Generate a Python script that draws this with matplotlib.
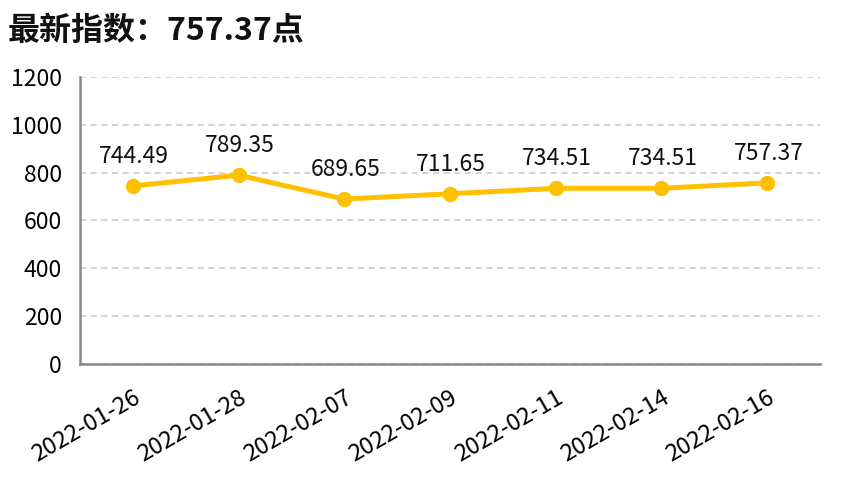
import matplotlib
matplotlib.use('Agg')
import matplotlib.pyplot as plt
from matplotlib.transforms import ScaledTranslation

plt.rcParams['font.family'] = ['Noto Sans CJK SC', 'DejaVu Sans']

# data
dates = ['2022-01-26', '2022-01-28', '2022-02-07', '2022-02-09',
         '2022-02-11', '2022-02-14', '2022-02-16']
values = [744.49, 789.35, 689.65, 711.65, 734.51, 734.51, 757.37]
y_ticks = [0, 200, 400, 600, 800, 1000, 1200]
title = '最新指数：757.37点'

line_color = '#FFC000'

fig = plt.figure(figsize=(8.46, 4.78), dpi=100)
ax = fig.add_axes([0.0946, 0.2385, 0.8745, 0.6005])

x = list(range(len(dates)))
ax.plot(x, values, color=line_color, linewidth=3.6, marker='o',
        markersize=10, zorder=3)

for xi, v in zip(x, values):
    ax.annotate(f'{v:.2f}', (xi, v), xytext=(1, 13), textcoords='offset points',
                ha='center', va='bottom', fontsize=16.5, color='#111111')

ax.set_xlim(-0.5, len(dates) - 0.5)
ax.set_ylim(0, 1200)
ax.set_yticks(y_ticks)
ax.set_yticklabels([str(t) for t in y_ticks], fontsize=16.5)
ax.set_xticks(x)
ax.set_xticklabels(dates, fontsize=17, rotation=30, ha='right',
                   rotation_mode='anchor')
# nudge rotated labels a little to the left, like the original
shift = ScaledTranslation(-0.08, 0, fig.dpi_scale_trans)
for lbl in ax.get_xticklabels():
    lbl.set_transform(lbl.get_transform() + shift)

ax.grid(axis='y', linestyle=(0, (4, 3)), color='#c8c8c8', linewidth=1.1)
ax.set_axisbelow(True)
ax.tick_params(axis='both', length=0)
ax.tick_params(axis='y', pad=13)
ax.tick_params(axis='x', pad=16)

for s in ['top', 'right']:
    ax.spines[s].set_visible(False)
for s in ['left', 'bottom']:
    ax.spines[s].set_color('#888888')
    ax.spines[s].set_linewidth(1.8)

fig.text(0.009, 0.935, title, fontsize=23, fontweight='bold',
         ha='left', va='center', color='#111111')

fig.savefig('out.png', dpi=100)
